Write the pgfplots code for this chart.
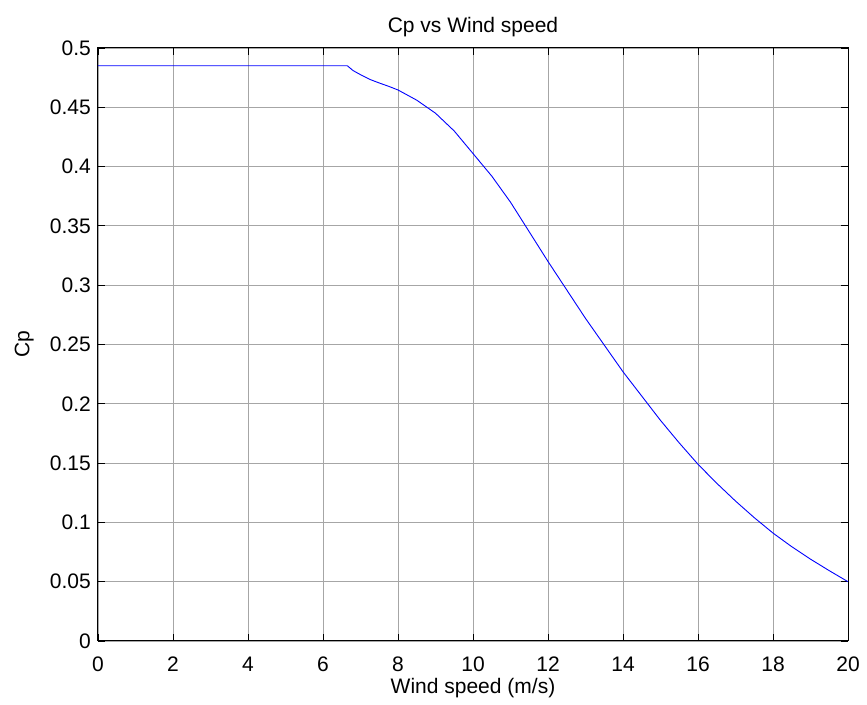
\documentclass[border=0pt]{standalone}
\usepackage{pgfplots}
\pgfplotsset{compat=1.18}
\usepackage{fontspec}
\setmainfont{Liberation Sans}
\begin{document}
\fontsize{21}{25}\selectfont
\begin{tikzpicture}
\begin{axis}[
  scale only axis,
  width=750pt, height=593pt,
  xmin=0, xmax=20, ymin=0, ymax=0.5,
  xtick={0,2,...,20},
  ytick={0,0.05,...,0.5},
  yticklabels={0,0.05,0.1,0.15,0.2,0.25,0.3,0.35,0.4,0.45,0.5},
  scaled y ticks=false,
  /pgf/number format/assume math mode=true,
  tick align=inside,
  major tick length=7pt,
  tick style={black, line width=0.8pt},
  axis line style={black, line width=1pt},
  grid=major,
  major grid style={gray!70, line width=0.8pt},
  ticklabel style={font=\fontsize{21}{25}\selectfont},
  xticklabel style={yshift=-9pt},
  label style={font=\fontsize{21}{25}\selectfont},
  title style={font=\fontsize{21}{25}\selectfont, yshift=-2pt},
  title={Cp vs Wind speed},
  xlabel={Wind speed (m/s)},
  ylabel={Cp},
  xlabel style={yshift=8pt},
  ylabel style={yshift=2pt},
]
\addplot[blue, line width=0.9pt] coordinates {
(0,0.485) (6.65,0.485) (6.8,0.481) (7.0,0.4775) (7.25,0.4735) (7.5,0.4705)
(7.75,0.4677) (8.0,0.4646) (8.5,0.456) (9.0,0.445) (9.5,0.430) (10,0.411)
(10.5,0.392) (11,0.370) (11.5,0.345) (12,0.320) (12.5,0.296) (13,0.272)
(13.5,0.2495) (14,0.227) (14.5,0.2065) (15,0.186) (15.5,0.167) (16,0.149)
(16.5,0.133) (17,0.118) (17.5,0.104) (18,0.091) (18.5,0.0795) (19,0.069)
(19.5,0.0593) (20,0.050)
};
\end{axis}
\path ([xshift=-98pt,yshift=-62pt]current axis.south west) rectangle ([xshift=19pt,yshift=48pt]current axis.north east);
\end{tikzpicture}
\end{document}
